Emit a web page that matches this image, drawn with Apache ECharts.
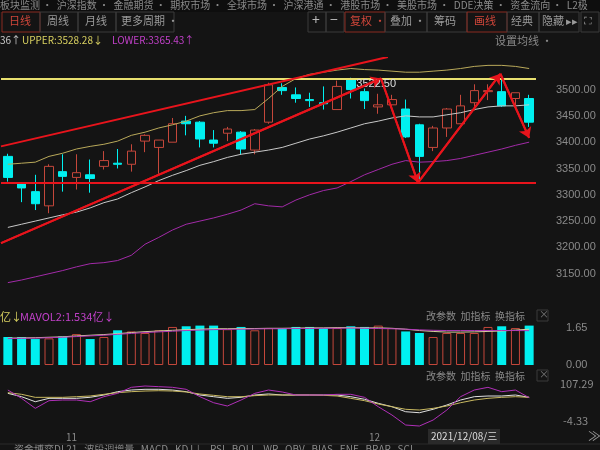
<!DOCTYPE html>
<html>
<head>
<meta charset="utf-8">
<script src="https://cdn.jsdelivr.net/npm/echarts@6/dist/echarts.min.js"></script>
<style>
  html, body { margin: 0; padding: 0; background: #141414; }
  #chart { width: 600px; height: 450px; }
</style>
</head>
<body>
<div id="chart"></div>
<script>
// 日K数据 [open, close, low, high]
const candles = [
  [3373, 3333, 3325, 3378], [3321, 3313, 3286, 3323], [3306, 3283, 3271, 3338],
  [3279, 3354, 3265, 3358], [3344, 3335, 3306, 3377], [3333, 3342, 3310, 3377],
  [3338, 3331, 3304, 3367], [3354, 3365, 3348, 3383], [3360, 3358, 3350, 3387],
  [3358, 3383, 3344, 3396], [3402, 3413, 3381, 3415], [3390, 3404, 3340, 3404],
  [3400, 3435, 3400, 3446], [3440, 3435, 3413, 3450], [3438, 3406, 3390, 3440],
  [3404, 3398, 3390, 3423], [3417, 3425, 3402, 3429], [3419, 3387, 3377, 3421],
  [3385, 3423, 3377, 3425], [3438, 3509, 3435, 3513], [3504, 3498, 3490, 3512],
  [3490, 3483, 3475, 3504], [3481, 3479, 3467, 3494], [3475, 3473, 3462, 3506],
  [3462, 3506, 3462, 3517], [3521, 3500, 3483, 3522.5], [3496, 3479, 3463, 3502],
  [3467, 3471, 3454, 3492], [3471, 3481, 3465, 3490], [3463, 3410, 3408, 3481],
  [3433, 3373, 3329, 3435], [3390, 3427, 3383, 3431], [3427, 3463, 3410, 3465],
  [3435, 3469, 3435, 3490], [3475, 3498, 3460, 3510], [3496, 3498, 3480, 3510],
  [3496, 3469, 3467, 3519], [3483, 3494, 3463, 3494], [3483, 3438, 3429, 3490]
];
const days = candles.map((_, i) => i);

// BOLL
const bollUpper = [3358, 3360, 3362, 3373, 3379, 3387, 3392, 3396, 3402, 3413, 3419, 3427, 3433,
  3440, 3450, 3456, 3460, 3460, 3462, 3483, 3506, 3521, 3529, 3533, 3537, 3540, 3538, 3537, 3535,
  3533, 3533, 3535, 3537, 3540, 3544, 3546, 3546, 3544, 3540];
const bollMid = [3238, 3244, 3250, 3256, 3262, 3267, 3275, 3285, 3292, 3304, 3315, 3327, 3337,
  3346, 3356, 3363, 3371, 3377, 3381, 3385, 3390, 3398, 3406, 3412, 3419, 3427, 3435, 3440, 3446,
  3450, 3448, 3448, 3452, 3456, 3462, 3467, 3469, 3469, 3471];
const bollLower = [3133, 3138, 3144, 3150, 3156, 3163, 3169, 3171, 3175, 3185, 3206, 3219, 3233,
  3244, 3250, 3256, 3263, 3271, 3283, 3279, 3277, 3290, 3300, 3308, 3313, 3325, 3338, 3348, 3358,
  3365, 3362, 3363, 3365, 3369, 3375, 3381, 3387, 3394, 3400];

// 成交量(亿)
const volume = [1.25, 1.25, 1.16, 1.19, 1.28, 1.38, 1.16, 1.25, 1.55, 1.50, 1.43, 1.55, 1.70,
  1.73, 1.76, 1.76, 1.60, 1.70, 1.55, 1.65, 1.65, 1.70, 1.70, 1.65, 1.65, 1.73, 1.70, 1.76, 1.65,
  1.50, 1.43, 1.25, 1.43, 1.43, 1.43, 1.70, 1.73, 1.65, 1.76];
const mavol1 = [1.20, 1.21, 1.22, 1.24, 1.26, 1.30, 1.33, 1.36, 1.40, 1.45, 1.49, 1.52, 1.55,
  1.58, 1.60, 1.62, 1.62, 1.63, 1.63, 1.64, 1.64, 1.65, 1.66, 1.66, 1.67, 1.67, 1.66, 1.66, 1.64,
  1.60, 1.54, 1.50, 1.47, 1.47, 1.48, 1.50, 1.52, 1.56, 1.60];
const mavol2 = [1.18, 1.19, 1.20, 1.22, 1.24, 1.27, 1.30, 1.33, 1.37, 1.41, 1.45, 1.48, 1.51,
  1.54, 1.56, 1.58, 1.59, 1.60, 1.61, 1.62, 1.62, 1.63, 1.63, 1.64, 1.64, 1.65, 1.64, 1.63, 1.62,
  1.60, 1.57, 1.55, 1.54, 1.54, 1.54, 1.54, 1.54, 1.54, 1.534];

// KDJ
const kdjK = [83.9, 73.2, 57.2, 68.0, 68.0, 68.0, 71.3, 78.6, 89.2, 94.5, 96.8, 96.8, 94.5, 89.2,
  78.6, 73.2, 68.0, 71.3, 78.6, 82.0, 78.6, 78.6, 78.6, 78.6, 78.6, 73.2, 65.0, 52.1, 41.3, 25.3,
  22.1, 33.0, 46.7, 62.6, 73.2, 75.4, 75.4, 78.6, 71.3];
const kdjD = [86.0, 80.8, 71.2, 71.2, 71.2, 73.2, 75.4, 80.8, 86.0, 89.2, 91.3, 92.3, 91.3, 88.2,
  81.8, 77.6, 73.2, 73.2, 76.5, 78.6, 78.6, 78.6, 78.6, 77.6, 75.4, 68.0, 60.5, 49.9, 41.3, 33.0,
  30.7, 36.1, 43.5, 54.0, 62.6, 68.0, 71.2, 73.2, 71.2];
const kdjJ = [94.5, 68.0, 36.1, 60.5, 62.6, 62.6, 57.2, 73.2, 83.9, 103.1, 107.3, 105.2, 103.1,
  96.8, 73.2, 54.0, 43.5, 62.6, 83.9, 94.5, 88.2, 78.6, 78.6, 78.6, 80.8, 80.8, 71.2, 41.3, 14.8,
  -17.1, -20.3, -1.2, 30.7, 73.2, 94.5, 103.1, 89.2, 94.5, 70.0];

// 画线 (K线序号, 价格)
const channelTop = [[-0.5, 3392], [27.7, 3562]];
const channelBottom = [[-0.5, 3208], [27.2, 3521]];
const zigzag = [
  [[27.2, 3521], [29.9, 3323]],
  [[29.9, 3323], [35.9, 3530]],
  [[35.9, 3530], [38.0, 3408]]
];
const supportLevel = 3323;
const resistLevel = 3521;

const UP = '#c4473b';
const DOWN = '#00f0f0';
const RED = '#e8141c';

const chart = echarts.init(document.getElementById('chart'));

const lineSeries = (name, data, color, xi, yi) => ({
  name, type: 'line', data, xAxisIndex: xi, yAxisIndex: yi,
  symbol: 'none', lineStyle: { color, width: 1 }, silent: true
});

const drawLine = (pts, arrow) => ({
  type: 'line', xAxisIndex: 3, yAxisIndex: 0, data: pts, symbol: 'none',
  lineStyle: { color: RED, width: 2 }, silent: true, z: 5,
  markLine: arrow ? {
    silent: true, symbol: ['none', 'arrow'], symbolSize: 10,
    lineStyle: { color: RED, width: 2, type: 'solid' }, label: { show: false },
    data: [[{ coord: pts[0] }, { coord: pts[1] }]]
  } : undefined
});

const txt = (x, y, text, fill, size) => ({
  type: 'text', left: x, top: y,
  style: { text, fill: fill || '#9a9a9a', font: (size || 11) + 'px "Noto Sans CJK SC"' }
});
const box = (x, y, w, h, stroke) => ({
  type: 'rect', shape: { x, y, width: w, height: h },
  style: { fill: 'none', stroke: stroke || '#3a3a3a', lineWidth: 1 }
});

chart.setOption({
  backgroundColor: '#141414',
  animation: false,
  grid: [
    { left: 1, width: 535, top: 58, height: 242 },
    { left: 1, width: 535, top: 318, height: 47 },
    { left: 1, width: 535, top: 375, height: 53 }
  ],
  xAxis: [
    { type: 'category', data: days, gridIndex: 0, show: false },
    { type: 'category', data: days, gridIndex: 1, show: false },
    { type: 'category', data: days, gridIndex: 2, show: false },
    { type: 'value', gridIndex: 0, min: -0.5, max: 38.5, show: false }
  ],
  yAxis: [
    {
      gridIndex: 0, position: 'right', min: 3100, max: 3560, interval: 50,
      splitLine: { show: false }, axisLine: { show: false }, axisTick: { show: false },
      axisLabel: {
        color: '#8a8a8a', fontSize: 11, margin: 20,
        formatter: v => (v > 3500 || v < 3150) ? '' : v.toFixed(2)
      }
    },
    {
      gridIndex: 1, position: 'right', min: 0, max: 2.1, interval: 1.65,
      splitLine: { show: false }, axisLine: { show: false }, axisTick: { show: false },
      axisLabel: { color: '#8a8a8a', fontSize: 11, margin: 30, showMaxLabel: false, formatter: v => v.toFixed(2) }
    },
    {
      gridIndex: 2, position: 'right', min: -26.6, max: 142.4,
      splitLine: { show: false }, axisLine: { show: false }, axisTick: { show: false },
      axisLabel: { show: false }
    }
  ],
  series: [
    lineSeries('UPPER', bollUpper, '#b9a95a', 0, 0),
    lineSeries('MID', bollMid, '#c8c8c8', 0, 0),
    lineSeries('LOWER', bollLower, '#a22aa8', 0, 0),
    {
      type: 'candlestick', data: candles, xAxisIndex: 0, yAxisIndex: 0, barWidth: 9, silent: true,
      itemStyle: { color: 'transparent', borderColor: UP, color0: DOWN, borderColor0: DOWN, borderWidth: 1 },
      markLine: {
        silent: true, symbol: 'none', label: { show: false },
        data: [
          { yAxis: supportLevel, lineStyle: { color: RED, width: 2, type: 'solid' } },
          { yAxis: resistLevel, lineStyle: { color: '#e8e070', width: 2, type: 'solid' } }
        ]
      },
      markPoint: {
        silent: true, symbol: 'circle', symbolSize: 1,
        data: [{ coord: [25, 3522.5], label: { show: true, formatter: '3522.50', color: '#dddddd', fontSize: 11, position: 'right', offset: [0, 6] } }]
      }
    },
    drawLine(channelTop, false),
    drawLine(channelBottom, true),
    drawLine(zigzag[0], true),
    drawLine(zigzag[1], true),
    drawLine(zigzag[2], true),
    {
      type: 'bar', xAxisIndex: 1, yAxisIndex: 1, barWidth: 9, silent: true,
      data: volume.map((v, i) => ({
        value: v,
        itemStyle: candles[i][1] >= candles[i][0]
          ? { color: 'transparent', borderColor: UP, borderWidth: 1 }
          : { color: DOWN }
      }))
    },
    lineSeries('MAVOL1', mavol1, '#d8d0a0', 1, 1),
    lineSeries('MAVOL2', mavol2, '#b03ab8', 1, 1),
    lineSeries('K', kdjK, '#e0e0e0', 2, 2),
    lineSeries('D', kdjD, '#c8b860', 2, 2),
    lineSeries('J', kdjJ, '#b030b8', 2, 2)
  ],
  graphic: [
    { type: 'rect', shape: { x: 0, y: 0, width: 600, height: 12 }, style: { fill: '#0e0e0e' } },
    txt(0, 0, '板块监测 ·  沪深指数 ·  金融期货 ·  期权市场 ·  全球市场 ·  沪深港通 ·  港股市场 ·  美股市场 ·  DDE决策 ·  资金流向 ·  L2极', '#8a8a8a', 10),
    box(2, 12, 38, 20, '#8a2a20'), txt(9, 15, '日线', '#d0463a', 11),
    box(40, 12, 38, 20), txt(47, 15, '周线', '#9a9a9a', 11),
    box(78, 12, 38, 20), txt(85, 15, '月线', '#9a9a9a', 11),
    box(116, 12, 58, 20), txt(121, 15, '更多周期 ·', '#9a9a9a', 11),
    box(308, 12, 18, 20), txt(312, 13, '+', '#bbbbbb', 14),
    box(326, 12, 18, 20), txt(330, 13, '−', '#bbbbbb', 14),
    box(345, 12, 40, 20, '#8a2a20'), txt(350, 15, '复权 ·', '#d0463a', 11),
    box(385, 12, 42, 20), txt(390, 15, '叠加 ·', '#9a9a9a', 11),
    box(427, 12, 40, 20), txt(434, 15, '筹码', '#9a9a9a', 11),
    box(467, 12, 40, 20, '#8a2a20'), txt(474, 15, '画线', '#d0463a', 11),
    box(507, 12, 32, 20), txt(511, 15, '经典', '#9a9a9a', 11),
    box(539, 12, 40, 20), txt(542, 15, '隐藏 ▸▸', '#9a9a9a', 11),
    box(581, 12, 18, 20), txt(584, 15, '⛶', '#9a9a9a', 11),
    txt(0, 35, '36↑', '#c8c8c8', 10),
    txt(22, 35, 'UPPER:3528.28↓', '#d8d060', 10),
    txt(112, 35, 'LOWER:3365.43↑', '#c040c8', 10),
    txt(495, 35, '设置均线 ·', '#8a8a8a', 11),
    txt(0, 311, '亿↓', '#d8d060', 11),
    txt(20, 311, 'MAVOL2:1.534亿↓', '#c040c8', 11),
    txt(426, 311, '改参数  加指标  换指标', '#8a8a8a', 10),
    box(537, 310, 11, 11), txt(539, 309, '×', '#777777', 10),
    txt(426, 371, '改参数  加指标  换指标', '#8a8a8a', 10),
    box(537, 370, 11, 11), txt(539, 369, '×', '#777777', 10),
    txt(560, 378, '107.29', '#8a8a8a', 11),
    txt(563, 415, '-4.33', '#8a8a8a', 11),
    txt(66, 432, '11', '#8a8a8a', 10),
    txt(369, 432, '12', '#8a8a8a', 10),
    { type: 'rect', shape: { x: 428, y: 429, width: 72, height: 15 }, style: { fill: '#2a2a2a' } },
    txt(431, 431, '2021/12/08/三', '#dddddd', 10),
    txt(588, 429, '≫', '#9a9a9a', 13),
    txt(14, 444, '资金博弈DL21   波段调增量   MACD   KDJ↓   RSI   BOLL   WR   OBV   BIAS   ENE   BRAR   SCI', '#8a8a8a', 10),
    { type: 'line', shape: { x1: 0, y1: 444, x2: 600, y2: 444 }, style: { stroke: '#2a2a2a' } }
  ]
});
</script>
</body>
</html>
